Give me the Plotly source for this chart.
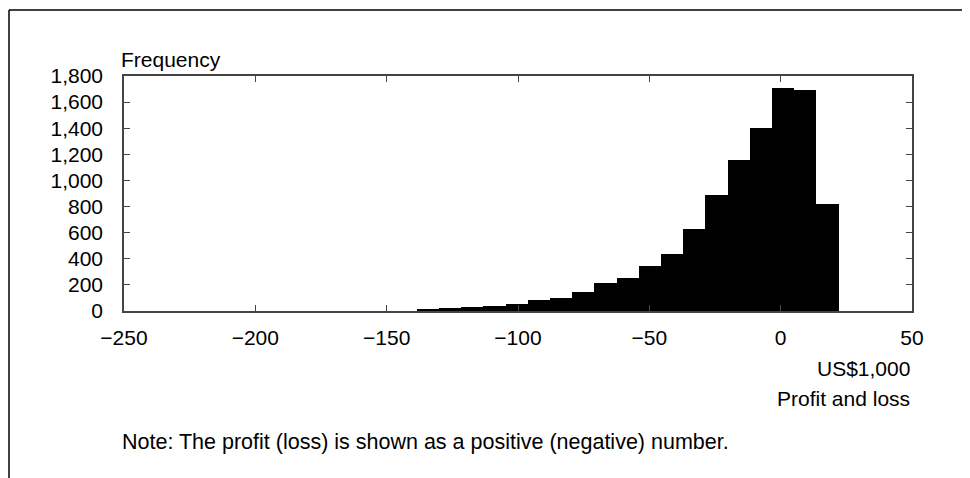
import plotly.graph_objects as go

# Histogram data
bin_start = -138.5      # left edge of first bin, US$1,000
bin_width = 8.45        # bin width, US$1,000
counts = [13, 21, 28, 36, 51, 84, 97, 143, 212, 255, 345, 440, 629, 890,
          1153, 1403, 1710, 1695, 820]

x_ticks = [-250, -200, -150, -100, -50, 0, 50]
y_ticks = [0, 200, 400, 600, 800, 1000, 1200, 1400, 1600, 1800]

centers = [bin_start + bin_width * (i + 0.5) for i in range(len(counts))]

FONT = "Liberation Sans, Arial, sans-serif"
AX = "#444444"
OFF = 8  # page offset of the figure (body margin)

fig = go.Figure(go.Bar(
    x=centers, y=counts, width=[bin_width] * len(counts),
    marker=dict(color="black", line=dict(width=0)),
))

# plot area in page pixels
PL, PR, PT, PB = 124, 912, 76, 311
W, H = 962, 470
L, T = PL - OFF, PT - OFF
pw, ph = PR - PL, PB - PT
R, B = W - L - pw, H - T - ph

fig.update_layout(
    width=W, height=H,
    margin=dict(l=L, r=R, t=T, b=B, pad=0),
    paper_bgcolor="white", plot_bgcolor="white",
    bargap=0, showlegend=False,
    font=dict(family=FONT, size=21, color="black"),
    xaxis=dict(range=[-250, 50], tickvals=x_ticks,
               ticktext=[("\u2212" + str(-v)) if v < 0 else str(v) for v in x_ticks],
               ticks="inside", ticklen=6, tickcolor=AX, tickwidth=1,
               showline=True, linecolor=AX, linewidth=1.5, mirror="ticks",
               showgrid=False, zeroline=False, ticklabelstandoff=7),
    yaxis=dict(range=[0, 1800], tickvals=y_ticks, tickformat=",d",
               ticks="inside", ticklen=6, tickcolor=AX, tickwidth=1,
               showline=True, linecolor=AX, linewidth=1.5, mirror="ticks",
               showgrid=False, zeroline=False, ticklabelstandoff=15),
)

def px(xp):
    return (xp - PL) / pw

def py(yp):
    return (PB - yp) / ph

# outer frame (top and left edges visible)
fig.add_shape(type="line", xref="paper", yref="paper",
              x0=px(9), x1=px(990), y0=py(10), y1=py(10),
              line=dict(color="black", width=1.5))
fig.add_shape(type="line", xref="paper", yref="paper",
              x0=px(9), x1=px(9), y0=py(10), y1=py(490),
              line=dict(color="black", width=1.5))

fig.add_annotation(text="Frequency", xref="paper", yref="paper",
                   x=px(119), y=py(46), xanchor="left", yanchor="top",
                   showarrow=False, font=dict(size=21))
fig.add_annotation(text="US$1,000", xref="paper", yref="paper",
                   x=1, y=py(355), xanchor="right", yanchor="top",
                   showarrow=False, font=dict(size=21))
fig.add_annotation(text="Profit and loss", xref="paper", yref="paper",
                   x=1, y=py(385), xanchor="right", yanchor="top",
                   showarrow=False, font=dict(size=21))
fig.add_annotation(text="Note: The profit (loss) is shown as a positive (negative) number.",
                   xref="paper", yref="paper",
                   x=px(120), y=py(428), xanchor="left", yanchor="top",
                   showarrow=False, font=dict(size=21.5))

fig.write_html("out.html")
